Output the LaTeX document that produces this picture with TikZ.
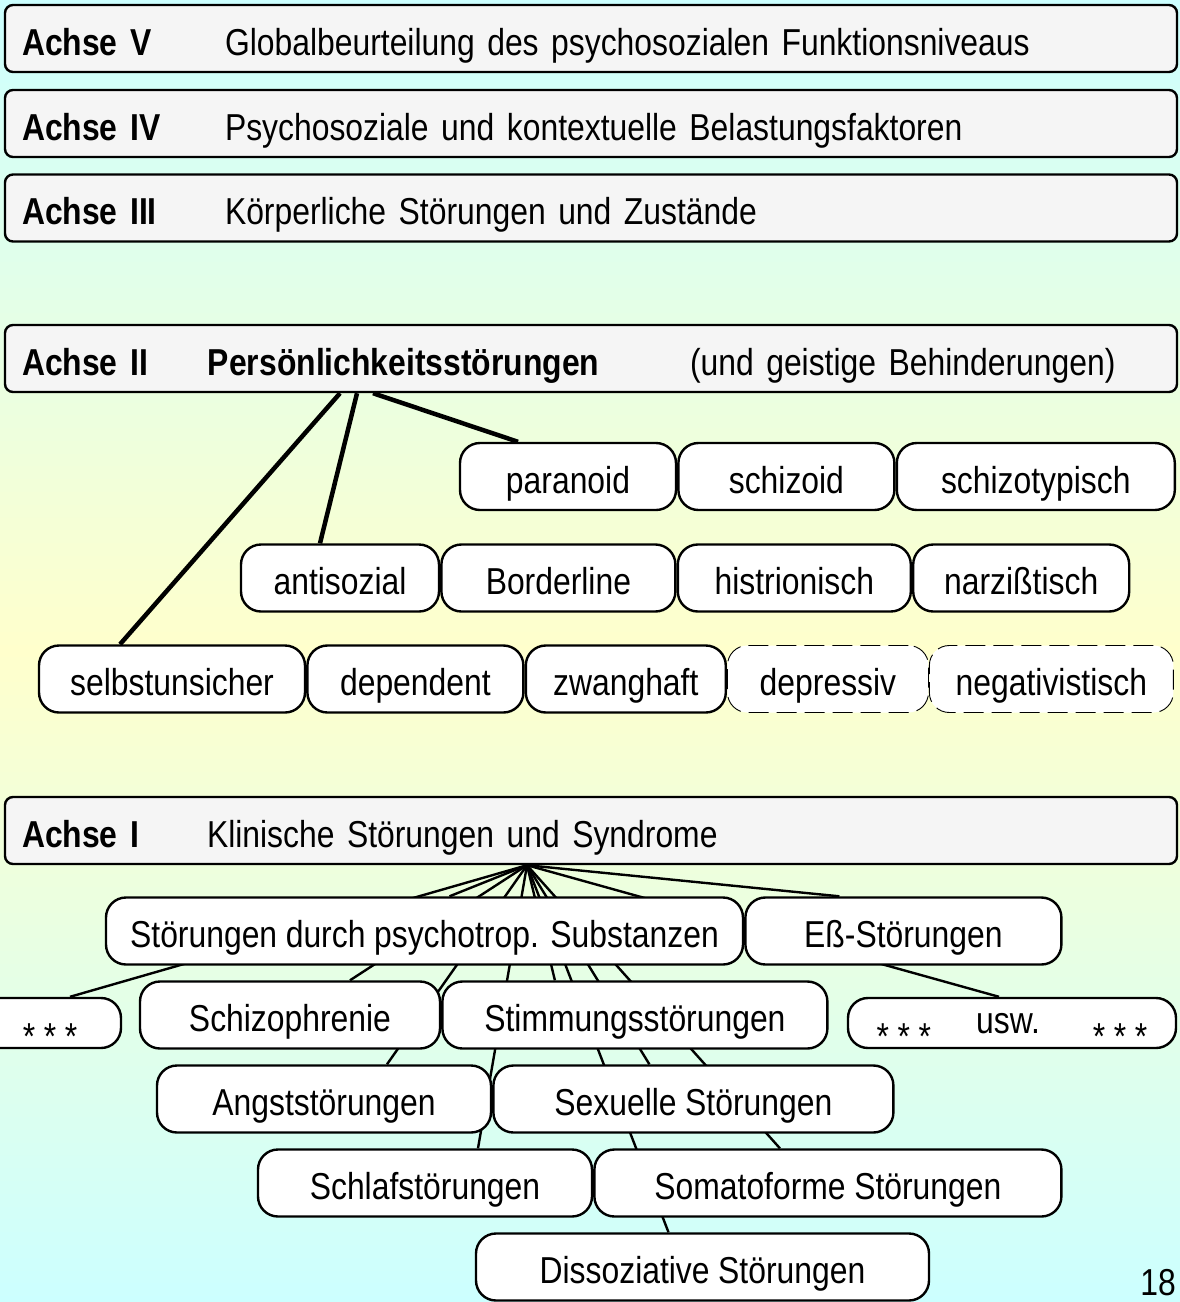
\documentclass[tikz,border=0pt]{standalone}
\usepackage{fontspec}
\setmainfont{Liberation Sans}[FakeStretch=0.85]
\usepackage{xcolor}
\usetikzlibrary{positioning}
\definecolor{bgcyan}{HTML}{CCFFFF}
\definecolor{bgyellow}{HTML}{FFFFCC}
\definecolor{axisgray}{HTML}{F5F5F5}
\pgfdeclarelayer{bg}
\pgfdeclarelayer{links}
\pgfsetlayers{bg,links,main}
\tikzset{
  axisbox/.style={draw,line width=2.4pt,fill=axisgray,rounded corners=8pt,minimum width=1172pt,minimum height=67pt,inner xsep=17pt,inner ysep=0pt,text width=1138pt,align=left,text height=33pt,text depth=0pt},
  itembox/.style={draw,line width=2.4pt,fill=white,rounded corners=20pt,minimum height=67pt,inner sep=0pt,text height=33pt,text depth=0pt},
  dashbox/.style={itembox,line width=0.9pt,dash pattern=on 20pt off 8pt},
  starbox/.style={itembox,minimum height=50pt,text height=20pt},
  boldlink/.style={line width=4.5pt},
  thinlink/.style={line width=2.4pt}
}
\newcommand{\axlabel}[2]{\makebox[#1][l]{\textbf{#2}}}
\newcommand{\stars}{\raisebox{-16pt}{* * *}}
\newcommand{\slidefont}{\fontsize{37.5}{45}\selectfont\spaceskip=8.6pt\relax}

\begin{document}
\begin{tikzpicture}[x=1pt,y=-1pt,font=\slidefont]
  % background
  \useasboundingbox (0,0) rectangle (1180,1302);
  \begin{pgfonlayer}{bg}
    \begin{scope}[y=1pt]
      \shade[top color=bgcyan,bottom color=bgyellow] (0,-651) rectangle (1180,0);
      \shade[top color=bgyellow,bottom color=bgcyan] (0,-1302) rectangle (1180,-650);
    \end{scope}
  \end{pgfonlayer}
  \clip (0,0) rectangle (1180,1302);

  % axes V, IV, III
  \node[axisbox] (ax5) at (591,38.5) {\axlabel{203pt}{Achse V}Globalbeurteilung des psychosozialen Funktionsniveaus};
  \node[axisbox] (ax4) at (591,123.5) {\axlabel{203pt}{Achse IV}Psychosoziale und kontextuelle Belastungsfaktoren};
  \node[axisbox] (ax3) at (591,208) {\axlabel{203pt}{Achse III}Körperliche Störungen und Zustände};

  % axis II
  \node[axisbox] (ax2) at (591,358.5) {\axlabel{186pt}{Achse II}\axlabel{482pt}{Persönlichkeitsstörungen}(und geistige Behinderungen)};

  \node[itembox,minimum width=216pt] (paranoid) at (568,476.5) {paranoid};
  \node[itembox,minimum width=216pt,right=0pt of paranoid] (schizoid) {schizoid};
  \node[itembox,minimum width=278pt,right=0pt of schizoid] (schizotyp) {schizotypisch};

  \node[itembox,minimum width=198pt] (antisoz) at (340,578) {antisozial};
  \node[itembox,minimum width=234pt,right=0pt of antisoz] (border) {Borderline};
  \node[itembox,minimum width=233pt,right=0pt of border] (histrion) {histrionisch};
  \node[itembox,minimum width=216pt,right=0pt of histrion] (narziss) {narzißtisch};

  \node[itembox,minimum width=266pt] (selbst) at (172,679) {selbstunsicher};
  \node[itembox,minimum width=216pt,right=0pt of selbst] (dependent) {dependent};
  \node[itembox,minimum width=200pt,right=0pt of dependent] (zwang) {zwanghaft};
  \node[dashbox,minimum width=201pt,right=0pt of zwang] (depressiv) {depressiv};
  \node[dashbox,minimum width=244pt,right=0pt of depressiv] (negativ) {negativistisch};

  \begin{pgfonlayer}{links}
    \draw[boldlink] ([xshift=-251pt]ax2.south) -- ([xshift=-52pt]selbst.north);
    \draw[boldlink] ([xshift=-234pt]ax2.south) -- ([xshift=-20pt]antisoz.north);
    \draw[boldlink] ([xshift=-218pt]ax2.south) -- ([xshift=-50pt]paranoid.north);
  \end{pgfonlayer}

  % axis I
  \node[axisbox] (ax1) at (591,830.5) {\axlabel{185pt}{Achse I}Klinische Störungen und Syndrome};

  \node[itembox,minimum width=637pt] (psy) at (424.5,931) {Störungen durch psychotrop. Substanzen};
  \node[itembox,minimum width=316pt,right=0pt of psy] (ess) {Eß-Störungen};

  \node[starbox,minimum width=142pt] (lstars) at (50,1023) {\stars};
  \node[itembox,minimum width=300pt] (schizo) at (290,1015) {Schizophrenie};
  \node[itembox,minimum width=385pt,right=0pt of schizo] (stimm) {Stimmungsstörungen};
  \node[starbox,minimum width=328pt] (usw) at (1012,1023) {\stars\hspace{45pt}usw.\hspace{53pt}\stars};

  \node[itembox,minimum width=334pt] (angst) at (324,1099) {Angststörungen};
  \node[itembox,minimum width=400pt,right=0pt of angst] (sexuell) {Sexuelle Störungen};

  \node[itembox,minimum width=334pt] (schlaf) at (425,1183) {Schlafstörungen};
  \node[itembox,minimum width=467pt,right=0pt of schlaf] (somato) {Somatoforme Störungen};

  \node[itembox,minimum width=453pt] (dissoz) at (702.5,1267) {Dissoziative Störungen};

  \coordinate (hub) at ([xshift=-64pt]ax1.south);
  \begin{pgfonlayer}{links}
    \draw[thinlink] (hub) -- ([xshift=20pt]lstars.north);
    \draw[thinlink] (hub) -- ([xshift=25pt]psy.north);
    \draw[thinlink] (hub) -- ([xshift=60pt]schizo.north);
    \draw[thinlink] (hub) -- ([xshift=63pt]angst.north);
    \draw[thinlink] (hub) -- ([xshift=53pt]schlaf.north);
    \draw[thinlink] (hub) -- ([xshift=-80pt]stimm.north);
    \draw[thinlink] (hub) -- ([xshift=-34pt]dissoz.north);
    \draw[thinlink] (hub) -- ([xshift=-44pt]sexuell.north);
    \draw[thinlink] (hub) -- ([xshift=-48pt]somato.north);
    \draw[thinlink] (hub) -- ([xshift=-13pt]usw.north);
    \draw[thinlink] (hub) -- ([xshift=-64pt]ess.north);
  \end{pgfonlayer}

  % page number
  \node[anchor=base east,inner sep=0pt] (pagenum) at (1176,1295) {18};
\end{tikzpicture}
\end{document}
